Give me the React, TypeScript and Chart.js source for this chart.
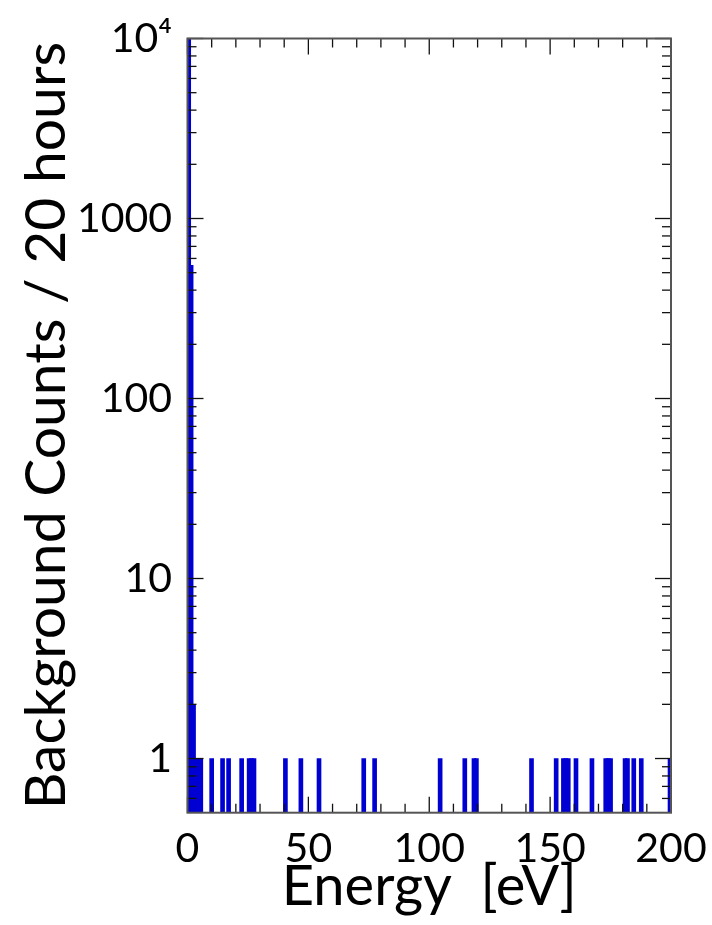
import React, { useEffect, useRef } from 'react';
import { Chart, registerables } from 'chart.js';

Chart.register(...registerables);

// Histogram bins (bin centre, eV) and background counts per bin
const energyBins = [
  0.5, 1.5, 2.5, 3.5, 4.5, 5.5, 10, 14.5, 17, 22.4, 25.5, 26.5, 27.5, 40.5, 46.9,
  54.4, 72.9, 77.4, 104.5, 114.7, 118.5, 119.5, 142.3, 152.5, 155.5, 156.5, 157.5,
  160.7, 167.3, 173, 174, 175, 181, 182, 184.6, 187.7, 199.6,
];
const counts = [
  10000, 550, 2, 1, 1, 1, 1, 1, 1, 1, 1, 1, 1, 1, 1,
  1, 1, 1, 1, 1, 1, 1, 1, 1, 1, 1, 1,
  1, 1, 1, 1, 1, 1, 1, 1, 1, 1,
];

const xTickValues = [0, 50, 100, 150, 200];
const xTickLabels = ['0', '50', '100', '150', '200'];
const xMinorTicks = [10, 20, 30, 40, 60, 70, 80, 90, 110, 120, 130, 140, 160, 170, 180, 190];

const yTickValues = [1, 10, 100, 1000, 10000];
const yTickLabels = ['1', '10', '100', '1000', '10\u2074'];
const yMinorTicks = [
  0.6, 0.7, 0.8, 0.9,
  2, 3, 4, 5, 6, 7, 8, 9,
  20, 30, 40, 50, 60, 70, 80, 90,
  200, 300, 400, 500, 600, 700, 800, 900,
  2000, 3000, 4000, 5000, 6000, 7000, 8000, 9000,
];

const xTitle = 'Energy  [eV]';
const yTitle = 'Background Counts / 20 hours';

const FONT = 'Lato, "Noto Sans", sans-serif';

const framePlugin = {
  id: 'frameTicks',
  afterDatasetsDraw(chart: any) {
    const { ctx, chartArea: a, scales } = chart;
    const x = scales.x;
    const y = scales.y;
    ctx.save();
    ctx.strokeStyle = '#111';
    ctx.lineWidth = 1.3;
    const seg = (x1: number, y1: number, x2: number, y2: number) => {
      ctx.beginPath();
      ctx.moveTo(x1, y1);
      ctx.lineTo(x2, y2);
      ctx.stroke();
    };
    const major = 16;
    const minor = 9;
    xTickValues.forEach((v) => {
      const p = x.getPixelForValue(v);
      seg(p, a.bottom, p, a.bottom - major);
      seg(p, a.top, p, a.top + major);
    });
    xMinorTicks.forEach((v) => {
      const p = x.getPixelForValue(v);
      seg(p, a.bottom, p, a.bottom - minor);
      seg(p, a.top, p, a.top + minor);
    });
    yTickValues.forEach((v) => {
      const p = y.getPixelForValue(v);
      seg(a.left, p, a.left + major, p);
      seg(a.right, p, a.right - major, p);
    });
    yMinorTicks.forEach((v) => {
      const p = y.getPixelForValue(v);
      seg(a.left, p, a.left + minor, p);
      seg(a.right, p, a.right - minor, p);
    });
    ctx.strokeStyle = '#555';
    ctx.lineWidth = 2;
    ctx.strokeRect(a.left, a.top, a.right - a.left, a.bottom - a.top);
    ctx.restore();
  },
};

export default function App() {
  const canvasRef = useRef<HTMLCanvasElement | null>(null);

  useEffect(() => {
    document.body.style.margin = '0';
    const canvas = canvasRef.current;
    if (!canvas) return;
    const chart = new Chart(canvas, {
      type: 'bar',
      data: {
        datasets: [
          {
            data: energyBins.map((e, i) => ({ x: e, y: counts[i] })),
            backgroundColor: '#0000d2',
            borderWidth: 0,
            barThickness: 4,
            grouped: false,
          } as any,
        ],
      },
      plugins: [framePlugin],
      options: {
        animation: false,
        responsive: false,
        maintainAspectRatio: false,
        layout: { padding: { left: 0, top: 38.5, right: 41, bottom: 0 } },
        plugins: { legend: { display: false }, tooltip: { enabled: false } },
        scales: {
          x: {
            type: 'linear',
            min: 0,
            max: 200,
            offset: false,
            grid: { display: false, offset: false },
            border: { display: false },
            afterBuildTicks: (s: any) => {
              s.ticks = xTickValues.map((v) => ({ value: v }));
            },
            afterFit: (s: any) => {
              s.height = 112.3;
              s.paddingLeft = 0;
              s.paddingRight = 0;
            },
            ticks: {
              autoSkip: false,
              maxRotation: 0,
              padding: 3,
              color: '#000',
              font: { family: FONT, size: 41 },
              callback: (_v: any, i: number) => xTickLabels[i],
            },
            title: {
              display: true,
              text: xTitle,
              color: '#000',
              font: { family: FONT, size: 56, lineHeight: 1.2 },
              padding: { top: 0, bottom: 4 },
            },
          },
          y: {
            type: 'logarithmic',
            min: 0.5,
            max: 10000,
            grid: { display: false },
            border: { display: false },
            afterBuildTicks: (s: any) => {
              s.ticks = yTickValues.map((v) => ({ value: v, major: true }));
            },
            afterFit: (s: any) => {
              s.width = 187.5;
              s.paddingTop = 0;
              s.paddingBottom = 0;
            },
            ticks: {
              autoSkip: false,
              padding: 7.5,
              color: '#000',
              font: { family: FONT, size: 41 },
              callback: (_v: any, i: number) => yTickLabels[i],
            },
            title: {
              display: true,
              text: yTitle,
              color: '#000',
              font: { family: FONT, size: 57, lineHeight: 1.2 },
              padding: { top: 12, bottom: 0 },
            },
          },
        },
      } as any,
    });
    return () => chart.destroy();
  }, []);

  return (
    <div style={{ position: 'absolute', left: 0, top: 0, width: 712, height: 925 }}>
      <canvas ref={canvasRef} width={712} height={925} style={{ display: 'block' }} />
    </div>
  );
}
